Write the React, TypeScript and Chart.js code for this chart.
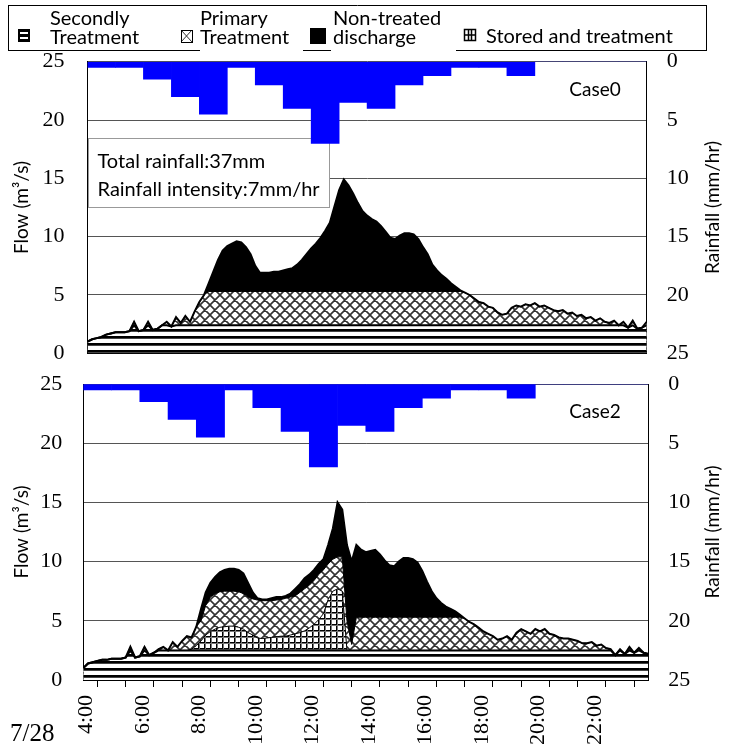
import React, { useEffect, useRef } from 'react';
import { Chart, registerables } from 'chart.js';

Chart.register(...registerables);

// ---------- data ----------
const START_HOUR = 4; // samples every 10 minutes, 4:00 .. 24:00
const SAMPLES_PER_HOUR = 6;

const xTickHours = [4, 6, 8, 10, 12, 14, 16, 18, 20, 22];
const xTickLabels = ['4:00', '6:00', '8:00', '10:00', '12:00', '14:00', '16:00', '18:00', '20:00', '22:00'];
const dateLabel = '7/28';

const legendLabels = [['Secondly', 'Treatment'], ['Primary', 'Treatment'], ['Non-treated', 'discharge'], ['Stored and treatment']];
const annotationLines = ['Total rainfall:37mm', 'Rainfall intensity:7mm/hr'];
const panelNames = ['Case0', 'Case2'];
const flowTitle = 'Flow (m³/s)';
const rainTitle = 'Rainfall (mm/hr)';

const rainHourStart = [4, 5, 6, 7, 8, 9, 10, 11, 12, 13, 14, 15, 16, 17, 18, 19, 20, 21, 22, 23];
const rainfall = [0.5, 0.5, 1.5, 3.0, 4.5, 0.5, 2.0, 4.0, 7.0, 3.5, 4.0, 2.0, 1.2, 0.5, 0.5, 1.2, 0, 0, 0, 0];

// Case0 : cumulative tops of each layer (m3/s)
const case0Total = [
  1.0, 1.2, 1.3, 1.4, 1.6, 1.7,
  1.8, 1.8, 1.8, 1.9, 2.7, 1.9,
  2.0, 2.7, 2.0, 2.1, 2.4, 2.7,
  2.3, 3.1, 2.6, 3.2, 2.7, 3.6,
  4.4, 5.0, 6.0, 7.0, 8.0, 8.8,
  9.2, 9.4, 9.6, 9.5, 9.1, 8.5,
  7.5, 6.9, 6.9, 6.9, 7.0, 7.0,
  7.1, 7.2, 7.3, 7.6, 8.0, 8.5,
  9.0, 9.4, 9.9, 10.5, 11.2, 12.6,
  14.0, 14.9, 14.4, 13.7, 12.9, 12.2,
  11.8, 11.5, 11.3, 10.9, 10.4, 9.9,
  9.8, 10.1, 10.3, 10.3, 10.2, 9.8,
  9.1, 8.5, 7.6, 7.1, 6.7, 6.4,
  6.0, 5.7, 5.4, 5.2, 5.0, 4.7,
  4.4, 4.3, 4.0, 3.9, 3.5, 3.3,
  3.4, 3.9, 4.1, 4.0, 4.2, 4.1,
  4.3, 4.0, 4.1, 3.9, 3.7, 3.6,
  3.7, 3.4, 3.5, 3.2, 3.3, 3.0,
  3.1, 2.8, 3.0, 2.7, 2.6, 2.8,
  2.4, 2.7, 2.2, 2.8, 2.1, 2.2,
  2.7,
];
const case0Primary = [
  1.0, 1.2, 1.3, 1.4, 1.6, 1.7,
  1.8, 1.8, 1.8, 1.9, 2.7, 1.9,
  2.0, 2.7, 2.0, 2.1, 2.4, 2.7,
  2.3, 3.1, 2.6, 3.2, 2.7, 3.6,
  4.4, 5.0, 5.3, 5.3, 5.3, 5.3,
  5.3, 5.3, 5.3, 5.3, 5.3, 5.3,
  5.3, 5.3, 5.3, 5.3, 5.3, 5.3,
  5.3, 5.3, 5.3, 5.3, 5.3, 5.3,
  5.3, 5.3, 5.3, 5.3, 5.3, 5.3,
  5.3, 5.3, 5.3, 5.3, 5.3, 5.3,
  5.3, 5.3, 5.3, 5.3, 5.3, 5.3,
  5.3, 5.3, 5.3, 5.3, 5.3, 5.3,
  5.3, 5.3, 5.3, 5.3, 5.3, 5.3,
  5.3, 5.3, 5.3, 5.2, 5.0, 4.7,
  4.4, 4.3, 4.0, 3.9, 3.5, 3.3,
  3.4, 3.9, 4.1, 4.0, 4.2, 4.1,
  4.3, 4.0, 4.1, 3.9, 3.7, 3.6,
  3.7, 3.4, 3.5, 3.2, 3.3, 3.0,
  3.1, 2.8, 3.0, 2.7, 2.6, 2.8,
  2.4, 2.7, 2.2, 2.8, 2.1, 2.2,
  2.7,
];
const case0Secondary = [
  1.0, 1.2, 1.3, 1.4, 1.6, 1.7,
  1.8, 1.8, 1.8, 1.9, 2.4, 1.9,
  2.0, 2.4, 2.0, 2.1, 2.4, 2.4,
  2.3, 2.4, 2.4, 2.4, 2.4, 2.4,
  2.4, 2.4, 2.4, 2.4, 2.4, 2.4,
  2.4, 2.4, 2.4, 2.4, 2.4, 2.4,
  2.4, 2.4, 2.4, 2.4, 2.4, 2.4,
  2.4, 2.4, 2.4, 2.4, 2.4, 2.4,
  2.4, 2.4, 2.4, 2.4, 2.4, 2.4,
  2.4, 2.4, 2.4, 2.4, 2.4, 2.4,
  2.4, 2.4, 2.4, 2.4, 2.4, 2.4,
  2.4, 2.4, 2.4, 2.4, 2.4, 2.4,
  2.4, 2.4, 2.4, 2.4, 2.4, 2.4,
  2.4, 2.4, 2.4, 2.4, 2.4, 2.4,
  2.4, 2.4, 2.4, 2.4, 2.4, 2.4,
  2.4, 2.4, 2.4, 2.4, 2.4, 2.4,
  2.4, 2.4, 2.4, 2.4, 2.4, 2.4,
  2.4, 2.4, 2.4, 2.4, 2.4, 2.4,
  2.4, 2.4, 2.4, 2.4, 2.4, 2.4,
  2.4, 2.4, 2.2, 2.4, 2.1, 2.2,
  2.4,
];

// Case2 : cumulative tops of each layer (m3/s)
const case2Total = [
  1.0, 1.4, 1.5, 1.6, 1.7, 1.7,
  1.8, 1.8, 1.8, 1.9, 2.8, 1.9,
  2.0, 2.8, 2.1, 2.3, 2.6, 2.8,
  2.5, 3.2, 2.8, 3.3, 3.7, 3.6,
  4.5, 6.0, 7.4, 8.2, 8.7, 9.1,
  9.3, 9.4, 9.4, 9.3, 9.0, 8.2,
  7.4, 6.9, 6.8, 6.8, 6.9, 7.0,
  7.0, 7.1, 7.3, 7.7, 8.1, 8.6,
  8.9, 9.3, 9.8, 10.2, 11.4, 12.8,
  15.0, 14.4, 11.4, 10.0, 11.4, 11.0,
  10.8, 10.9, 11.0, 10.6, 10.1, 9.7,
  9.6, 10.0, 10.3, 10.3, 10.2, 9.9,
  9.2, 8.3, 7.5, 6.9, 6.5, 6.2,
  6.0, 5.8, 5.5, 5.2, 4.9, 4.7,
  4.4, 4.1, 3.9, 3.7, 3.4, 3.5,
  3.7, 3.4, 4.0, 4.3, 4.1, 3.9,
  4.3, 4.1, 4.3, 3.9, 3.8, 3.6,
  3.5, 3.5, 3.4, 3.3, 3.1, 3.1,
  3.2, 2.9, 3.0, 2.7, 2.6, 2.1,
  2.6, 2.2, 2.8, 2.3, 2.7, 2.3,
  2.2,
];
const case2Primary = [
  1.0, 1.4, 1.5, 1.6, 1.7, 1.7,
  1.8, 1.8, 1.8, 1.9, 2.8, 1.9,
  2.0, 2.8, 2.1, 2.3, 2.6, 2.8,
  2.5, 3.2, 2.8, 3.3, 3.7, 3.6,
  4.5, 5.0, 6.3, 7.0, 7.3, 7.45,
  7.5, 7.5, 7.5, 7.45, 7.3, 7.0,
  6.85, 6.75, 6.7, 6.7, 6.7, 6.75,
  6.8, 6.9, 7.0, 7.1, 7.4, 7.7,
  8.0, 8.4, 8.9, 9.3, 9.8, 10.2,
  10.4, 10.4, 5.0, 3.0, 5.3, 5.3,
  5.3, 5.3, 5.3, 5.3, 5.3, 5.3,
  5.3, 5.3, 5.3, 5.3, 5.3, 5.3,
  5.3, 5.3, 5.3, 5.3, 5.3, 5.3,
  5.3, 5.3, 5.3, 5.2, 4.9, 4.7,
  4.4, 4.1, 3.9, 3.7, 3.4, 3.5,
  3.7, 3.4, 4.0, 4.3, 4.1, 3.9,
  4.3, 4.1, 4.3, 3.9, 3.8, 3.6,
  3.5, 3.5, 3.4, 3.3, 3.1, 3.1,
  3.2, 2.9, 3.0, 2.7, 2.6, 2.1,
  2.6, 2.2, 2.8, 2.3, 2.7, 2.3,
  2.2,
];
const case2Stored = [
  1.0, 1.4, 1.5, 1.6, 1.7, 1.7,
  1.8, 1.8, 1.8, 1.9, 2.5, 1.9,
  2.0, 2.5, 2.1, 2.3, 2.5, 2.5,
  2.5, 2.5, 2.5, 2.5, 2.5, 2.6,
  2.9, 3.3, 3.8, 4.1, 4.3, 4.45,
  4.5, 4.55, 4.55, 4.45, 4.3, 4.0,
  3.8, 3.55, 3.5, 3.55, 3.6, 3.65,
  3.7, 3.7, 3.8, 3.9, 4.0, 4.15,
  4.4, 4.7, 5.1, 5.6, 6.8, 7.5,
  7.7, 7.5, 2.5, 2.5, 2.5, 2.5,
  2.5, 2.5, 2.5, 2.5, 2.5, 2.5,
  2.5, 2.5, 2.5, 2.5, 2.5, 2.5,
  2.5, 2.5, 2.5, 2.5, 2.5, 2.5,
  2.5, 2.5, 2.5, 2.5, 2.5, 2.5,
  2.5, 2.5, 2.5, 2.5, 2.5, 2.5,
  2.5, 2.5, 2.5, 2.5, 2.5, 2.5,
  2.5, 2.5, 2.5, 2.5, 2.5, 2.5,
  2.5, 2.5, 2.5, 2.5, 2.5, 2.5,
  2.5, 2.5, 2.5, 2.5, 2.5, 2.1,
  2.5, 2.2, 2.5, 2.3, 2.5, 2.3,
  2.2,
];
const case2Secondary = [
  1.0, 1.4, 1.5, 1.6, 1.7, 1.7,
  1.8, 1.8, 1.8, 1.9, 2.5, 1.9,
  2.0, 2.5, 2.1, 2.3, 2.5, 2.5,
  2.5, 2.5, 2.5, 2.5, 2.5, 2.5,
  2.5, 2.5, 2.5, 2.5, 2.5, 2.5,
  2.5, 2.5, 2.5, 2.5, 2.5, 2.5,
  2.5, 2.5, 2.5, 2.5, 2.5, 2.5,
  2.5, 2.5, 2.5, 2.5, 2.5, 2.5,
  2.5, 2.5, 2.5, 2.5, 2.5, 2.5,
  2.5, 2.5, 2.5, 2.5, 2.5, 2.5,
  2.5, 2.5, 2.5, 2.5, 2.5, 2.5,
  2.5, 2.5, 2.5, 2.5, 2.5, 2.5,
  2.5, 2.5, 2.5, 2.5, 2.5, 2.5,
  2.5, 2.5, 2.5, 2.5, 2.5, 2.5,
  2.5, 2.5, 2.5, 2.5, 2.5, 2.5,
  2.5, 2.5, 2.5, 2.5, 2.5, 2.5,
  2.5, 2.5, 2.5, 2.5, 2.5, 2.5,
  2.5, 2.5, 2.5, 2.5, 2.5, 2.5,
  2.5, 2.5, 2.5, 2.5, 2.5, 2.1,
  2.5, 2.2, 2.5, 2.3, 2.5, 2.3,
  2.2,
];

// ---------- styling helpers ----------
const SERIF = '"Liberation Serif", "Times New Roman", serif';
const SANS = 'Lato, "Open Sans", sans-serif';

type Pats = { stripes: CanvasPattern; cross: CanvasPattern; grid: CanvasPattern };

function mkPattern(w: number, h: number, draw: (g: CanvasRenderingContext2D) => void): CanvasPattern {
  const c = document.createElement('canvas');
  c.width = w;
  c.height = h;
  const g = c.getContext('2d') as CanvasRenderingContext2D;
  g.fillStyle = '#fff';
  g.fillRect(0, 0, w, h);
  draw(g);
  return g.createPattern(c, 'repeat') as CanvasPattern;
}

function makePatterns(): Pats {
  const stripes = mkPattern(8, 7, (g) => {
    g.fillStyle = '#000';
    g.fillRect(0, 0, 8, 2);
    g.fillStyle = '#444';
    g.fillRect(0, 2, 8, 1);
  });
  const cross = mkPattern(10, 10, (g) => {
    g.strokeStyle = '#333';
    g.lineWidth = 1.6;
    g.beginPath();
    for (const dx of [-10, 0, 10]) {
      g.moveTo(dx - 1, -1);
      g.lineTo(dx + 11, 11);
      g.moveTo(dx + 11, -1);
      g.lineTo(dx - 1, 11);
    }
    g.stroke();
  });
  const grid = mkPattern(6, 6, (g) => {
    g.fillStyle = '#000';
    g.fillRect(0, 0, 6, 1);
    g.fillRect(0, 0, 1, 6);
    g.fillStyle = '#777';
    g.fillRect(0, 1, 6, 1);
    g.fillRect(1, 0, 1, 6);
  });
  return { stripes, cross, grid };
}

const toXY = (arr: number[]) => arr.map((v, i) => ({ x: START_HOUR + i / SAMPLES_PER_HOUR, y: v }));

type PanelCfg = {
  name: string;
  total: number[];
  primary: number[];
  stored: number[] | null;
  secondary: number[];
  padTop: number;
  padBottom: number;
  leftW: number;
  rightW: number;
  xAxisH: number;
  showX: boolean;
  showBox: boolean;
  leftPad: number;
};

function decorPlugin(p: PanelCfg) {
  return {
    id: 'panelDecor',
    beforeDatasetsDraw(chart: any) {
      if (!p.showBox) return;
      const ctx: CanvasRenderingContext2D = chart.ctx;
      const ca = chart.chartArea;
      const bx = Math.round(ca.left) + 0.5;
      const by = Math.round(ca.top + 76) + 0.5;
      const bw = 241;
      const bh = 69;
      ctx.save();
      ctx.fillStyle = '#fff';
      ctx.fillRect(bx, by, bw, bh);
      ctx.strokeStyle = '#999';
      ctx.lineWidth = 1;
      ctx.strokeRect(bx, by, bw, bh);
      ctx.fillStyle = '#000';
      ctx.font = `20px ${SANS}`;
      ctx.textAlign = 'left';
      ctx.textBaseline = 'middle';
      ctx.fillText(annotationLines[0], bx + 9, by + 23);
      ctx.fillText(annotationLines[1], bx + 9, by + 51);
      ctx.restore();
    },
    afterDraw(chart: any) {
      const ctx: CanvasRenderingContext2D = chart.ctx;
      const ca = chart.chartArea;
      const cy = (ca.top + ca.bottom) / 2;
      ctx.save();
      ctx.fillStyle = '#000';
      ctx.font = `19px ${SANS}`;
      ctx.textAlign = 'center';
      ctx.textBaseline = 'middle';
      ctx.fillText(p.name, 595, ca.top + 28);
      ctx.font = `19px ${SANS}`;
      ctx.save();
      ctx.translate(22, cy);
      ctx.rotate(-Math.PI / 2);
      ctx.fillText(flowTitle, 0, 0);
      ctx.restore();
      ctx.save();
      ctx.translate(713, cy);
      ctx.rotate(-Math.PI / 2);
      ctx.fillText(rainTitle, 0, 0);
      ctx.restore();
      ctx.restore();
    },
  };
}

function buildConfig(p: PanelCfg, pats: Pats): any {
  const datasets: any[] = [
    {
      type: 'bar',
      label: 'Rainfall',
      data: rainHourStart.map((h, i) => ({ x: h + 0.5, y: rainfall[i] })),
      yAxisID: 'y2',
      backgroundColor: '#0000ff',
      borderWidth: 0,
      barPercentage: 1,
      categoryPercentage: 1,
      order: 0,
    },
    {
      type: 'line',
      label: 'Total',
      data: toXY(p.total),
      yAxisID: 'y',
      borderColor: '#000',
      borderWidth: 2,
      fill: false,
      order: 1,
    },
    {
      type: 'line',
      label: 'Secondly Treatment',
      data: toXY(p.secondary),
      yAxisID: 'y',
      borderColor: '#000',
      borderWidth: 2,
      backgroundColor: pats.stripes,
      fill: 'origin',
      order: 2,
    },
  ];
  if (p.stored) {
    datasets.push({
      type: 'line',
      label: 'Stored and treatment',
      data: toXY(p.stored),
      yAxisID: 'y',
      borderColor: '#000',
      borderWidth: 1,
      backgroundColor: pats.grid,
      fill: 'origin',
      order: 3,
    });
  }
  datasets.push(
    {
      type: 'line',
      label: 'Primary Treatment',
      data: toXY(p.primary),
      yAxisID: 'y',
      borderColor: '#000',
      borderWidth: 1,
      backgroundColor: pats.cross,
      fill: 'origin',
      order: 4,
    },
    {
      type: 'line',
      label: 'Non-treated discharge',
      data: toXY(p.total),
      yAxisID: 'y',
      borderColor: '#000',
      borderWidth: 0,
      backgroundColor: '#000',
      fill: 'origin',
      order: 5,
    }
  );

  const yFit = (w: number) => (s: any) => {
    s.width = w;
    s.paddingTop = 0;
    s.paddingBottom = 0;
  };

  return {
    type: 'line',
    data: { datasets },
    plugins: [decorPlugin(p)],
    options: {
      responsive: false,
      animation: false,
      devicePixelRatio: 1,
      events: [],
      layout: { padding: { top: p.padTop, bottom: p.padBottom, left: 0, right: 0 } },
      elements: { point: { radius: 0, hoverRadius: 0 }, line: { tension: 0 } },
      plugins: { legend: { display: false }, tooltip: { enabled: false } },
      scales: {
        x: {
          type: 'linear',
          min: START_HOUR,
          max: 24,
          offset: false,
          afterFit: (s: any) => {
            s.height = p.xAxisH;
            s.paddingLeft = 0;
            s.paddingRight = 0;
          },
          border: { display: true, color: '#000', width: 1 },
          grid: {
            display: p.showX,
            drawOnChartArea: false,
            drawTicks: p.showX,
            tickLength: 7,
            color: '#000',
          },
          ticks: {
            display: p.showX,
            stepSize: 1,
            autoSkip: false,
            maxRotation: 90,
            minRotation: 90,
            padding: 8,
            labelOffset: 3,
            color: '#000',
            font: { family: SERIF, size: 22 },
            callback: (v: number) => {
              const k = xTickHours.indexOf(v);
              return k >= 0 ? xTickLabels[k] : '';
            },
          },
        },
        y: {
          position: 'left',
          min: 0,
          max: 25,
          afterFit: yFit(p.leftW),
          grid: { color: '#555', lineWidth: 1, drawTicks: false },
          border: { display: true, color: '#000', width: 1 },
          ticks: {
            stepSize: 5,
            padding: p.leftPad,
            color: '#000',
            font: { family: SERIF, size: 22 },
          },
        },
        y2: {
          position: 'right',
          reverse: true,
          min: 0,
          max: 25,
          afterFit: yFit(p.rightW),
          grid: { drawOnChartArea: false, drawTicks: false },
          border: { display: true, color: '#000', width: 1 },
          ticks: {
            stepSize: 5,
            padding: 20,
            color: '#000',
            font: { family: SERIF, size: 22 },
          },
        },
      },
    },
  };
}

function drawLegend(ctx: CanvasRenderingContext2D) {
  ctx.clearRect(0, 0, 734, 55);
  ctx.strokeStyle = '#000';
  ctx.lineWidth = 1;
  ctx.beginPath();
  ctx.moveTo(8, 5.5);
  ctx.lineTo(707, 5.5);
  ctx.moveTo(8.5, 5);
  ctx.lineTo(8.5, 51);
  ctx.moveTo(706.5, 5);
  ctx.lineTo(706.5, 51);
  for (const [a, b] of [[8, 200], [303, 331], [456, 707]]) {
    ctx.moveTo(a, 50.5);
    ctx.lineTo(b, 50.5);
  }
  ctx.stroke();

  // swatch 1 : stripes
  ctx.fillStyle = '#000';
  ctx.fillRect(18, 29, 12, 13);
  ctx.fillStyle = '#fff';
  ctx.fillRect(20, 32, 8, 2);
  ctx.fillRect(20, 37, 8, 2);
  // swatch 2 : cross
  ctx.fillStyle = '#fff';
  ctx.fillRect(181, 30, 11, 12);
  ctx.strokeStyle = '#333';
  ctx.beginPath();
  ctx.moveTo(181, 30);
  ctx.lineTo(192, 42);
  ctx.moveTo(192, 30);
  ctx.lineTo(181, 42);
  ctx.stroke();
  ctx.strokeStyle = '#000';
  ctx.strokeRect(181.5, 30.5, 11, 12);
  // swatch 3 : black
  ctx.fillStyle = '#000';
  ctx.fillRect(310, 28, 16, 16);
  // swatch 4 : grid
  ctx.fillStyle = '#fff';
  ctx.fillRect(464, 29, 12, 12);
  ctx.strokeStyle = '#000';
  ctx.lineWidth = 1.5;
  ctx.strokeRect(464.5, 29.5, 11, 11);
  ctx.beginPath();
  ctx.moveTo(468.5, 29);
  ctx.lineTo(468.5, 41);
  ctx.moveTo(471.5, 29);
  ctx.lineTo(471.5, 41);
  ctx.moveTo(464, 35);
  ctx.lineTo(476, 35);
  ctx.stroke();

  ctx.fillStyle = '#000';
  ctx.font = `20px ${SANS}`;
  ctx.textAlign = 'left';
  ctx.textBaseline = 'middle';
  ctx.fillText(legendLabels[0][0], 50, 19);
  ctx.fillText(legendLabels[0][1], 50, 38);
  ctx.fillText(legendLabels[1][0], 200, 19);
  ctx.fillText(legendLabels[1][1], 200, 38);
  ctx.fillText(legendLabels[2][0], 333, 19);
  ctx.fillText(legendLabels[2][1], 333, 38);
  ctx.fillText(legendLabels[3][0], 486, 37);
}

export default function App() {
  const legendRef = useRef<HTMLCanvasElement>(null);
  const topRef = useRef<HTMLCanvasElement>(null);
  const botRef = useRef<HTMLCanvasElement>(null);

  useEffect(() => {
    const pats = makePatterns();
    const lctx = legendRef.current?.getContext('2d');
    if (lctx) drawLegend(lctx);

    const top: PanelCfg = {
      name: panelNames[0],
      total: case0Total,
      primary: case0Primary,
      stored: null,
      secondary: case0Secondary,
      padTop: 26.7,
      padBottom: 21.7,
      leftW: 87.5,
      rightW: 87.3,
      xAxisH: 0,
      showX: false,
      showBox: true,
      leftPad: 23,
    };
    const bottom: PanelCfg = {
      name: panelNames[1],
      total: case2Total,
      primary: case2Primary,
      stored: case2Stored,
      secondary: case2Secondary,
      padTop: 24,
      padBottom: 0,
      leftW: 83.3,
      rightW: 85.7,
      xAxisH: 69,
      showX: true,
      showBox: false,
      leftPad: 21,
    };
    const c1 = new Chart(topRef.current as HTMLCanvasElement, buildConfig(top, pats));
    const c2 = new Chart(botRef.current as HTMLCanvasElement, buildConfig(bottom, pats));
    return () => {
      c1.destroy();
      c2.destroy();
    };
  }, []);

  return (
    <div
      style={{
        position: 'absolute',
        left: 0,
        top: 0,
        width: 734,
        height: 749,
        overflow: 'hidden',
        background: '#fff',
      }}
    >
      <canvas ref={legendRef} width={734} height={55} style={{ position: 'absolute', left: 0, top: 0 }} />
      <canvas ref={topRef} width={734} height={340} style={{ position: 'absolute', left: 0, top: 35 }} />
      <canvas ref={botRef} width={734} height={389} style={{ position: 'absolute', left: 0, top: 360 }} />
      <div
        style={{
          position: 'absolute',
          left: 10,
          top: 719,
          fontFamily: SERIF,
          fontSize: 25,
          lineHeight: '27px',
          color: '#000',
        }}
      >
        {dateLabel}
      </div>
    </div>
  );
}
